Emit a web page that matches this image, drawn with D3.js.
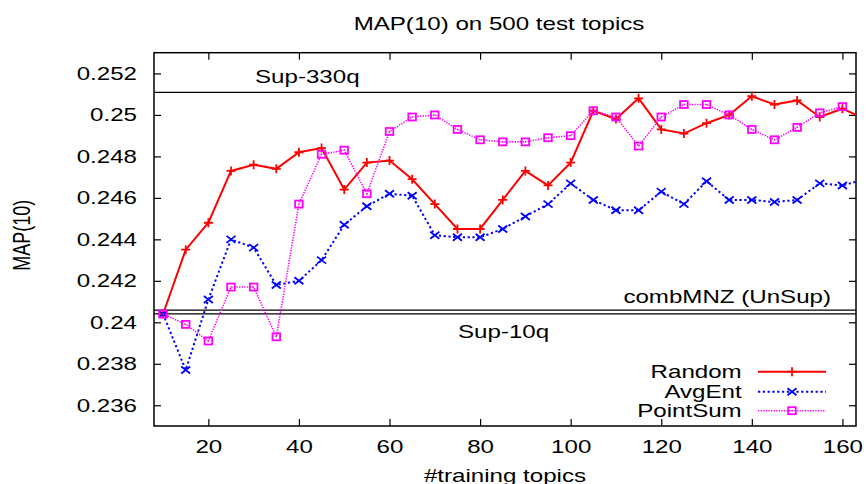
<!DOCTYPE html>
<html>
<head>
<meta charset="utf-8">
<script src="https://cdn.jsdelivr.net/npm/d3@7"></script>
<style>
  html, body { margin: 0; padding: 0; background: #fff; }
  svg { display: block; }
  text { font-family: "Liberation Sans", Arial, Helvetica, sans-serif; font-size: 18px; fill: #000; }
</style>
</head>
<body>
<svg id="chart" width="867" height="484"></svg>
<script>
// ---------------- DATA ----------------
const topics = [10, 15, 20, 25, 30, 35, 40, 45, 50, 55, 60, 65, 70, 75, 80, 85, 90, 95, 100, 105, 110,
                115, 120, 125, 130, 135, 140, 145, 150, 155, 160, 165];
const randomVals = [0.2404, 0.2435, 0.2448, 0.2473, 0.2476, 0.2474, 0.2482, 0.2484, 0.2464, 0.2477, 0.2478,
                    0.2469, 0.2457, 0.2445, 0.2445, 0.2459, 0.2473, 0.2466, 0.2477, 0.2502, 0.2498,
                    0.2508, 0.2493, 0.2491, 0.2496, 0.2500, 0.2509, 0.2505, 0.2507, 0.2499, 0.2503, 0.2498];
const avgEntVals = [0.2404, 0.2377, 0.2411, 0.2440, 0.2436, 0.2418, 0.2420, 0.2430, 0.2447, 0.2456, 0.2462,
                    0.2461, 0.2442, 0.2441, 0.2441, 0.2445, 0.2451, 0.2457, 0.2467, 0.2459, 0.2454,
                    0.2454, 0.2463, 0.2457, 0.2468, 0.2459, 0.2459, 0.2458, 0.2459, 0.2467, 0.2466, 0.2469];
const pointSumVals = [0.2404, 0.2399, 0.2391, 0.2417, 0.2417, 0.2393, 0.2457, 0.2481, 0.2483, 0.2462, 0.2492,
                      0.2499, 0.2500, 0.2493, 0.2488, 0.2487, 0.2487, 0.2489, 0.2490, 0.2502, 0.2499,
                      0.2485, 0.2499, 0.2505, 0.2505, 0.2500, 0.2493, 0.2488, 0.2494, 0.2501, 0.2504];
const seriesNames = ["Random", "AvgEnt", "PointSum"];
const refNames = ["Sup-330q", "combMNZ (UnSup)", "Sup-10q"];
const refVals = [0.25109, 0.24059, 0.24041];
const xTicks = [20, 40, 60, 80, 100, 120, 140, 160];
const xTickLabels = ["20", "40", "60", "80", "100", "120", "140", "160"];
const yTicks = [0.236, 0.238, 0.240, 0.242, 0.244, 0.246, 0.248, 0.250, 0.252];
const yTickLabels = ["0.236", "0.238", "0.24", "0.242", "0.244", "0.246", "0.248", "0.25", "0.252"];
const titleText = "MAP(10) on 500 test topics";
const xTitle = "#training topics";
const yTitle = "MAP(10)";

// ---------------- LAYOUT ----------------
const SX = 1.34; // horizontal stretch of text seen in reference
const L = 154, R = 856, T = 52.7, B = 426;
const svg = d3.select("#chart");

const x = d3.scaleLinear().domain([8, 163]).range([L, R]);
const y = d3.scaleLinear().domain([0.235, 0.253]).range([B, T]);

function stretchedText(xp, yp, str, anchor) {
  return svg.append("text")
    .attr("transform", `translate(${xp},${yp}) scale(${SX},1)`)
    .attr("text-anchor", anchor)
    .text(str);
}

// clip
svg.append("defs").append("clipPath").attr("id", "plotclip")
  .append("rect").attr("x", L).attr("y", T).attr("width", R - L).attr("height", B - T);

// axes (inward ticks on all sides)
const tk = 7;
const gL = svg.append("g").attr("transform", `translate(${L},0)`)
  .call(d3.axisLeft(y).tickValues(yTicks).tickSize(-tk).tickPadding(0)
    .tickFormat((d, i) => yTickLabels[i]));
const gR = svg.append("g").attr("transform", `translate(${R},0)`)
  .call(d3.axisRight(y).tickValues(yTicks).tickSize(-tk).tickFormat(""));
const gB = svg.append("g").attr("transform", `translate(0,${B})`)
  .call(d3.axisBottom(x).tickValues(xTicks).tickSize(-tk).tickPadding(0)
    .tickFormat((d, i) => xTickLabels[i]));
const gT = svg.append("g").attr("transform", `translate(0,${T})`)
  .call(d3.axisTop(x).tickValues(xTicks).tickSize(-tk).tickFormat(""));

[gL, gR, gB, gT].forEach(g => {
  g.select(".domain").remove();
  g.selectAll(".tick line").attr("stroke", "#000").attr("stroke-width", 1.2);
  g.selectAll("text").attr("font-size", null).attr("font-family", null).attr("fill", "#000");
});
gL.selectAll(".tick text")
  .attr("x", -17 / SX).attr("dy", "0.32em")
  .attr("transform", `scale(${SX},1)`).attr("text-anchor", "end");
gB.selectAll(".tick text")
  .attr("x", 0).attr("y", 14.2).attr("dy", "0.71em")
  .attr("transform", `scale(${SX},1)`).attr("text-anchor", "middle");

// frame
svg.append("rect").attr("x", L).attr("y", T).attr("width", R - L).attr("height", B - T)
  .attr("fill", "none").attr("stroke", "#000").attr("stroke-width", 1.5);

// reference lines
const plot = svg.append("g").attr("clip-path", "url(#plotclip)");
refVals.forEach(v => {
  plot.append("line").attr("x1", L).attr("x2", R).attr("y1", y(v)).attr("y2", y(v))
    .attr("stroke", "#000").attr("stroke-width", 1.2);
});

// reference labels
stretchedText(255, 83, refNames[0], "start");
stretchedText(831, 302.7, refNames[1], "end");
stretchedText(458, 338.3, refNames[2], "start");

// series
const styles = [
  { color: "#ff0000", dash: null, width: 2, marker: "plus" },
  { color: "#0000ff", dash: "2.2,2.6", width: 2, marker: "cross" },
  { color: "#ff00ff", dash: "1.3,1.3", width: 1.6, marker: "square" }
];
const seriesData = [randomVals, avgEntVals, pointSumVals].map(vals =>
  vals.map((v, i) => ({ t: topics[i], v })));

function drawMarker(g, kind, color) {
  if (kind === "plus") {
    g.append("path").attr("d", "M-4.5,0H4.5M0,-4.5V4.5")
      .attr("stroke", color).attr("stroke-width", 1.8).attr("fill", "none");
  } else if (kind === "cross") {
    g.append("path").attr("d", "M-4.5,-3.5L4.5,3.5M-4.5,3.5L4.5,-3.5")
      .attr("stroke", color).attr("stroke-width", 1.8).attr("fill", "none");
  } else {
    g.append("rect").attr("x", -3.8).attr("y", -3.5).attr("width", 7.6).attr("height", 7)
      .attr("stroke", color).attr("stroke-width", 1.8).attr("fill", "none");
    g.append("rect").attr("x", -0.6).attr("y", -0.6).attr("width", 1.2).attr("height", 1.2)
      .attr("fill", color);
  }
}

const line = d3.line().x(d => x(d.t)).y(d => y(d.v));
seriesData.forEach((data, si) => {
  const st = styles[si];
  plot.append("path").datum(data)
    .attr("d", line)
    .attr("fill", "none").attr("stroke", st.color).attr("stroke-width", st.width)
    .attr("stroke-dasharray", st.dash);
  plot.selectAll(null).data(data).enter().append("g")
    .attr("transform", d => `translate(${x(d.t)},${y(d.v)})`)
    .each(function () { drawMarker(d3.select(this), st.marker, st.color); });
});

// legend
const legY = [371.7, 391.7, 410.7];
seriesNames.forEach((name, i) => {
  const st = styles[i];
  stretchedText(741.7, legY[i] + 5.8, name, "end");
  svg.append("line").attr("x1", 758).attr("x2", 826).attr("y1", legY[i]).attr("y2", legY[i])
    .attr("stroke", st.color).attr("stroke-width", st.width).attr("stroke-dasharray", st.dash);
  const mg = svg.append("g").attr("transform", `translate(792,${legY[i]})`);
  drawMarker(mg, st.marker, st.color);
});

// titles
stretchedText(499, 30, titleText, "middle");
stretchedText(505, 482, xTitle, "middle");
svg.append("text")
  .attr("transform", `translate(30,${(T + B) / 2 - 4}) scale(${SX},1) rotate(-90)`)
  .attr("text-anchor", "middle")
  .text(yTitle);
</script>
</body>
</html>
